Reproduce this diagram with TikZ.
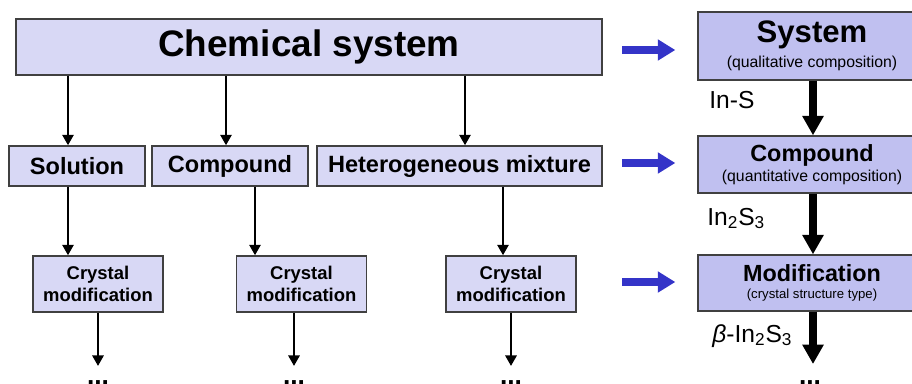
\documentclass[tikz,border=0pt]{standalone}
\usepackage{fontspec}
\setmainfont{Liberation Sans}
\usetikzlibrary{calc,positioning,arrows.meta}
\definecolor{lightlav}{RGB}{216,216,245}
\definecolor{midlav}{RGB}{192,192,240}
\definecolor{boxline}{RGB}{64,64,64}
\definecolor{arrowblue}{RGB}{52,52,200}
\tikzset{
  lbox/.style={draw=boxline,line width=0.8pt,fill=lightlav,inner sep=0pt,align=center,font=\bfseries},
  rbox/.style={draw=boxline,line width=0.8pt,fill=midlav,inner sep=0pt,align=center,minimum width=4.56cm},
  downarr/.style={line width=1.5pt,-{Triangle[width=6.3pt,length=6pt]}},
  bigarr/.style={line width=4.2pt,-{Triangle[width=11.5pt,length=11pt]}},
  bluearr/.style={arrowblue,line width=4.5pt,-{Triangle[width=11.5pt,length=10pt]}},
  lab/.style={inner sep=0pt,anchor=base west,font=\fontsize{14}{17}\selectfont},
  dotnode/.style={inner sep=0pt,anchor=base,font=\bfseries\fontsize{15}{18}\selectfont}
}

\begin{document}
\begin{tikzpicture}[x=0.02cm,y=-0.02cm]
\useasboundingbox (0,0) rectangle (912,383);

% left tree
\node[lbox,minimum width=11.72cm,minimum height=1.12cm,font=\bfseries\fontsize{21}{25}\selectfont] (chem) at (309,47) {Chemical system};
\node[lbox,minimum width=2.72cm,minimum height=0.8cm,font=\bfseries\fontsize{13.4}{16}\selectfont] (sol) at (77,166) {Solution};
\node[lbox,minimum width=3.12cm,minimum height=0.8cm,font=\bfseries\fontsize{13.4}{16}\selectfont] (cmp) at (230,166) {Compound};
\node[lbox,minimum width=5.7cm,minimum height=0.8cm,font=\bfseries\fontsize{13.4}{16}\selectfont] (het) at (459.5,166) {Heterogeneous mixture};
\foreach \i/\x in {1/98,2/301.5,3/511} {
    \node[lbox,minimum width=2.6cm,minimum height=1.12cm,font=\bfseries\fontsize{10.5}{12.5}\selectfont] (cry\i) at (\x,284) {Crystal\\modification};
}

\foreach \n/\x in {a1/68,a2/226,a3/465,b1/68,b2/255,b3/503,d1/98,d2/294,d3/511,r/813} {
    \coordinate (\n) at (\x,0);
}
\draw[downarr] (chem.south -| a1) -- (sol.north -| a1);
\draw[downarr] (chem.south -| a2) -- (cmp.north -| a2);
\draw[downarr] (chem.south -| a3) -- (het.north -| a3);
\draw[downarr] (sol.south -| b1) -- (cry1.north -| b1);
\draw[downarr] (cmp.south -| b2) -- (cry2.north -| b2);
\draw[downarr] (het.south -| b3) -- (cry3.north -| b3);
\foreach \i in {1,2,3} {
    \coordinate (end\i) at ($(d\i)+(0,366)$);
    \draw[downarr] (cry\i.south -| d\i) -- (end\i);
    \node[dotnode] (dots\i) at ($(d\i)+(0,384)$) {...};
}

% right column
\node[rbox,minimum height=1.36cm,font=\fontsize{9}{14.2}\selectfont] (sys) at (812,46)
    {{\bfseries\fontsize{17.7}{14.2}\selectfont System}\\(qualitative composition)};
\node[rbox,minimum height=1.14cm,font=\fontsize{9}{11.3}\selectfont] (rcmp) at (812,164.5)
    {{\bfseries\fontsize{13.3}{11.3}\selectfont Compound}\\(quantitative composition)};
\node[rbox,minimum height=1.12cm,font=\fontsize{7.5}{9.6}\selectfont] (rmod) at (812,283)
    {{\bfseries\fontsize{13.3}{9.6}\selectfont Modification}\\(crystal structure type)};

\coordinate (rend) at ($(r)+(0,364)$);
\draw[bigarr] (sys.south -| r) -- (rcmp.north -| r);
\draw[bigarr] (rcmp.south -| r) -- (rmod.north -| r);
\draw[bigarr] (rmod.south -| r) -- (rend);
\node[dotnode] (rdots) at (810,384) {...};

\node[lab] (lins) at (709,108) {In-S};
\node[lab] (lin2s3) at (707,225) {In\textsubscript{2}S\textsubscript{3}};
\node[lab] (lbeta) at (712,342) {\textit{β}-In\textsubscript{2}S\textsubscript{3}};

\foreach \n/\dy in {sys/-0.08,rcmp/0.03,rmod/0.02} {
    \draw[bluearr] ([xshift=-1.5cm,yshift=\dy cm]\n.west) -- ([xshift=-0.44cm,yshift=\dy cm]\n.west);
}
\end{tikzpicture}
\end{document}
